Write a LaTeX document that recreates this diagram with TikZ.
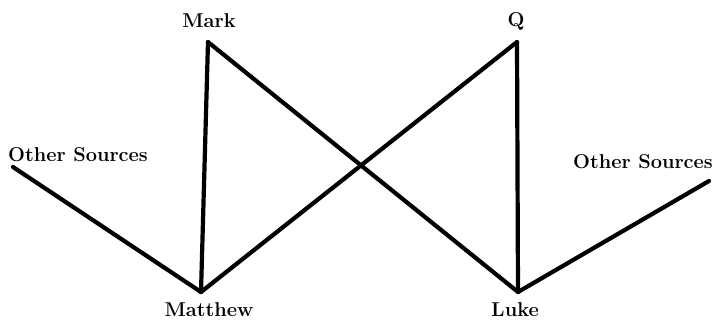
\documentclass[tikz,border=0pt]{standalone}
\usepackage{fontspec}
\begin{document}
\begin{tikzpicture}[x=1pt,y=-1pt,
  lbl/.style={inner sep=0pt, font=\fontsize{20}{24}\selectfont\bfseries},
  edge/.style={line width=4.2pt, line cap=round}]
\useasboundingbox (0,0) rectangle (715,321);
\node[lbl] (mark) at (209,21) {Mark};
\node[lbl] (q) at (516,21) {Q};
\node[lbl] (os1) at (78,155) {Other Sources};
\node[lbl] (os2) at (643,162) {Other Sources};
\node[lbl] (matthew) at (209,310) {Matthew};
\node[lbl] (luke) at (515,310) {Luke};
\coordinate (markp) at (208,42);
\coordinate (qp) at (517,42);
\coordinate (matp) at (201,292);
\coordinate (lukep) at (518,292);
\coordinate (os1p) at (13,167);
\coordinate (os2p) at (709,181);
\draw[edge] (markp) -- (matp);
\draw[edge] (markp) -- (lukep);
\draw[edge] (qp) -- (matp);
\draw[edge] (qp) -- (lukep);
\draw[edge] (os1p) -- (matp);
\draw[edge] (os2p) -- (lukep);
\end{tikzpicture}
\end{document}
